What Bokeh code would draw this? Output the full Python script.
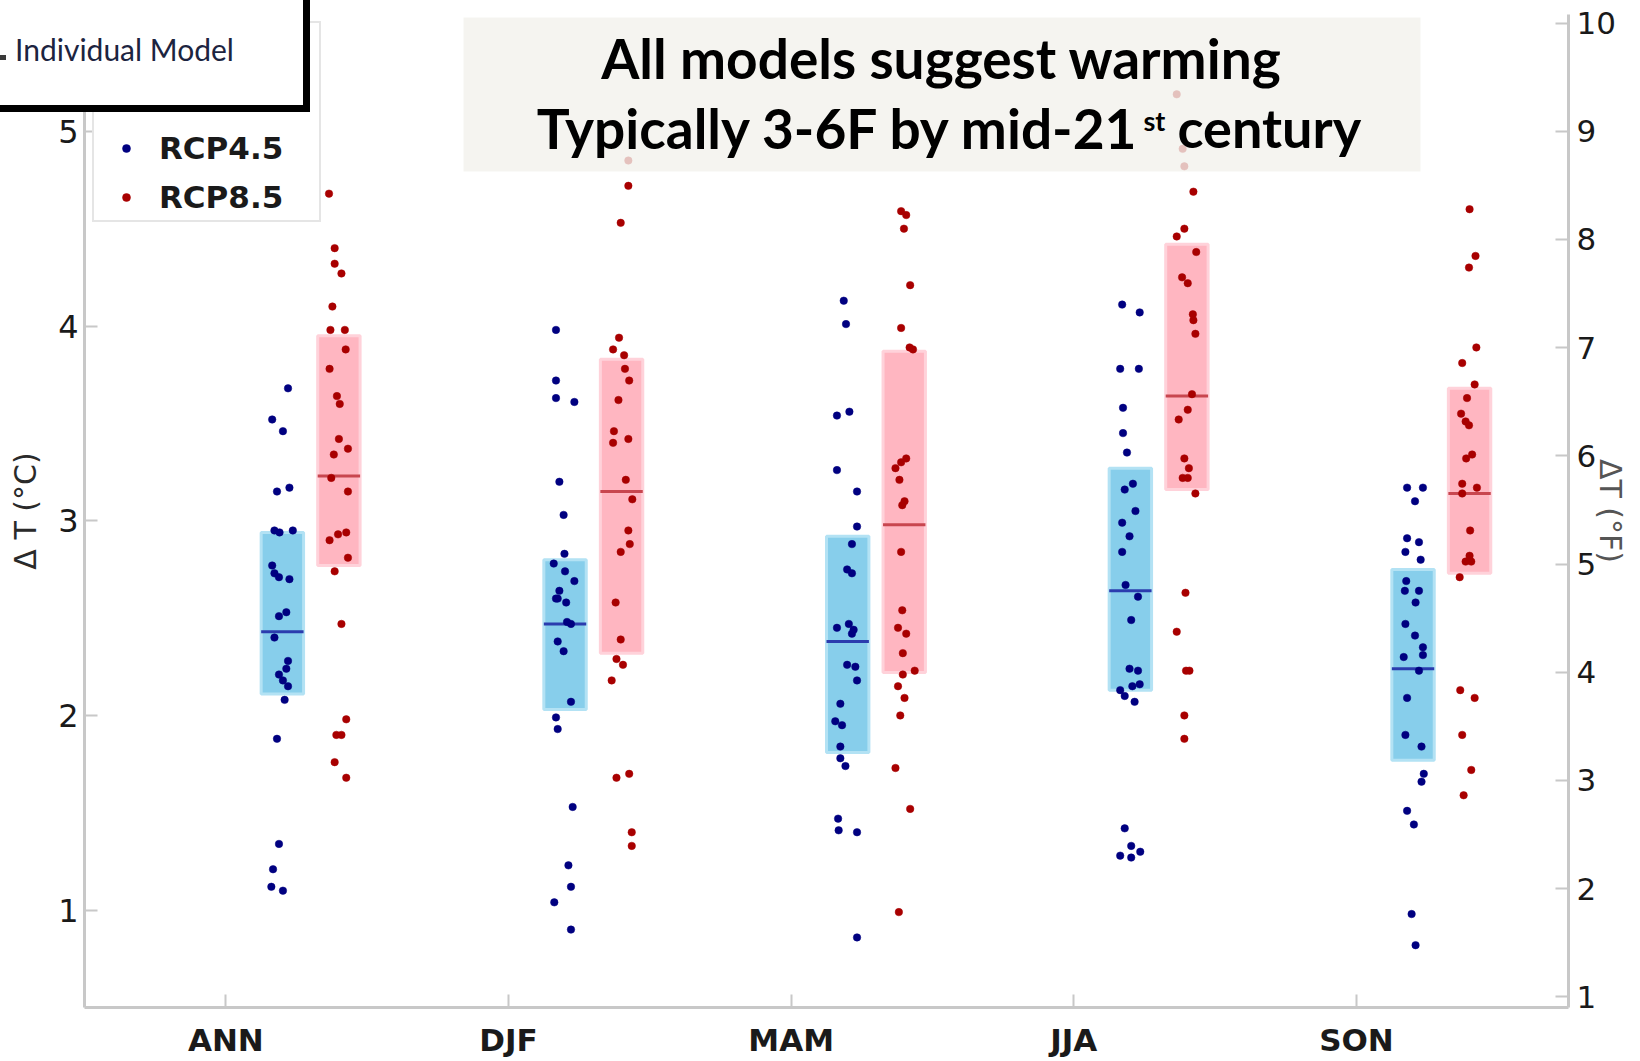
import numpy as np
from bokeh.plotting import figure
from bokeh.layouts import column
from bokeh.models import (Range1d, LinearAxis, FixedTicker, Label, BoxAnnotation,
                          Legend, LegendItem, ColumnDataSource, Div)
from bokeh.embed import file_html
from bokeh.resources import INLINE

# ---------------- data ----------------
seasons = ["ANN", "DJF", "MAM", "JJA", "SON"]

# box statistics (deg C)
rcp45_low = [2.11, 2.03, 1.81, 2.13, 1.77]
rcp45_median = [2.43, 2.47, 2.38, 2.64, 2.24]
rcp45_high = [2.94, 2.80, 2.92, 3.27, 2.75]
rcp85_low = [2.77, 2.32, 2.22, 3.16, 2.73]
rcp85_median = [3.23, 3.15, 2.98, 3.64, 3.14]
rcp85_high = [3.95, 3.83, 3.87, 4.42, 3.68]

# individual models (deg C) and their horizontal jitter (category units)
ann_rcp45 = [3.68, 3.52, 3.46, 3.17, 3.15, 2.95, 2.94, 2.95, 2.77, 2.73, 2.71, 2.70, 2.53,
             2.51, 2.40, 2.28, 2.24, 2.21, 2.18, 2.15, 2.08, 1.88, 1.34, 1.21, 1.12, 1.10]
ann_rcp45_dx = [0.020, -0.036, 0.002, 0.025, -0.019, -0.028, -0.010, 0.037, -0.036, -0.028,
                -0.012, 0.025, 0.014, -0.012, -0.028, 0.020, 0.014, -0.012, 0.002, 0.020,
                0.008, -0.019, -0.012, -0.033, -0.039, 0.002]
ann_rcp85 = [4.68, 4.40, 4.32, 4.27, 4.10, 3.98, 3.98, 3.88, 3.78, 3.64, 3.60, 3.42, 3.37,
             3.34, 3.22, 3.15, 2.94, 2.93, 2.90, 2.81, 2.74, 2.47, 1.98, 1.90, 1.90, 1.76, 1.68]
ann_rcp85_dx = [-0.035, -0.015, -0.015, 0.009, -0.023, -0.030, 0.021, 0.024, -0.033, -0.007,
                0.003, 0.000, 0.032, -0.018, -0.027, 0.032, 0.026, -0.003, -0.033, 0.032,
                -0.015, 0.009, 0.026, -0.009, 0.009, -0.015, 0.026]

djf_rcp45 = [3.98, 3.72, 3.63, 3.61, 3.20, 3.03, 2.83, 2.78, 2.74, 2.69, 2.64, 2.60, 2.58,
             2.60, 2.48, 2.47, 2.38, 2.33, 2.07, 1.99, 1.93, 1.53, 1.23, 1.12, 1.04, 0.90]
djf_rcp45_dx = [-0.032, -0.032, -0.032, 0.033, -0.020, -0.005, -0.002, -0.040, 0.000, 0.033,
                -0.020, -0.032, 0.004, -0.026, 0.007, 0.021, -0.026, -0.005, 0.021, -0.032,
                -0.026, 0.027, 0.012, 0.021, -0.038, 0.021]
djf_rcp85 = [4.85, 4.72, 4.53, 3.94, 3.88, 3.85, 3.78, 3.72, 3.62, 3.46, 3.40, 3.42, 3.21,
             3.11, 2.95, 2.88, 2.84, 2.58, 2.39, 2.29, 2.26, 2.18, 1.68, 1.70, 1.40, 1.33]
djf_rcp85_dx = [0.024, 0.024, -0.003, -0.009, -0.030, 0.009, 0.012, 0.027, -0.011, -0.027,
                -0.030, 0.024, 0.015, 0.038, 0.024, 0.029, -0.003, -0.021, -0.003, -0.018,
                0.005, -0.035, -0.018, 0.027, 0.036, 0.036]

mam_rcp45 = [4.13, 4.01, 3.54, 3.56, 3.26, 3.15, 2.97, 2.88, 2.75, 2.73, 2.45, 2.47, 2.44,
             2.42, 2.26, 2.25, 2.18, 2.06, 1.97, 1.95, 1.84, 1.78, 1.74, 1.47, 1.41, 1.40, 0.86]
mam_rcp45_dx = [-0.014, -0.006, -0.038, 0.006, -0.038, 0.033, 0.033, 0.015, -0.002, 0.015,
                -0.038, 0.004, 0.021, 0.015, -0.002, 0.027, 0.033, -0.026, -0.044, -0.020,
                -0.026, -0.026, -0.008, -0.034, -0.032, 0.033, 0.033]
mam_rcp85 = [4.59, 4.57, 4.50, 4.21, 3.99, 3.89, 3.88, 3.32, 3.30, 3.27, 3.21, 3.10, 3.08,
             2.84, 2.54, 2.45, 2.42, 2.32, 2.23, 2.21, 2.15, 2.09, 2.00, 1.73, 1.52, 0.99]
mam_rcp85_dx = [-0.011, 0.007, -0.001, 0.021, -0.011, 0.019, 0.031, 0.007, -0.011, -0.031,
                -0.017, 0.001, -0.007, -0.011, -0.007, -0.022, 0.007, -0.005, 0.037, -0.005,
                -0.022, 0.001, -0.014, -0.031, 0.021, -0.019]

jja_rcp45 = [4.11, 4.07, 3.78, 3.78, 3.58, 3.45, 3.35, 3.19, 3.16, 3.05, 2.99, 2.92, 2.84,
             2.67, 2.61, 2.49, 2.24, 2.23, 2.16, 2.15, 2.13, 2.10, 2.07, 1.42, 1.33, 1.30,
             1.28, 1.27]
jja_rcp45_dx = [-0.029, 0.033, -0.036, 0.030, -0.026, -0.026, -0.012, 0.009, -0.020, 0.018,
                -0.029, -0.003, -0.029, -0.017, 0.027, 0.003, -0.003, 0.027, 0.033, 0.007,
                -0.036, -0.020, 0.015, -0.020, 0.003, 0.035, -0.036, 0.003]
jja_rcp85 = [5.19, 4.91, 4.82, 4.69, 4.50, 4.46, 4.38, 4.25, 4.22, 4.06, 4.03, 3.96, 3.65,
             3.57, 3.52, 3.32, 3.27, 3.22, 3.22, 3.14, 2.63, 2.43, 2.23, 2.23, 2.00, 1.88]
jja_rcp85_dx = [-0.036, -0.015, -0.009, 0.023, -0.009, -0.036, 0.033, -0.017, 0.003, 0.021,
                0.023, 0.030, 0.018, 0.003, -0.029, -0.009, 0.007, -0.015, 0.003, 0.030,
                -0.005, -0.036, -0.003, 0.009, -0.009, -0.009]

son_rcp45 = [3.17, 3.17, 3.10, 2.91, 2.89, 2.84, 2.80, 2.69, 2.64, 2.64, 2.58, 2.47, 2.41,
             2.35, 2.31, 2.30, 2.23, 2.09, 1.90, 1.84, 1.70, 1.66, 1.51, 1.44, 0.98, 0.82]
son_rcp45_dx = [-0.021, 0.035, 0.007, -0.021, 0.021, -0.027, 0.027, -0.024, -0.029, 0.021,
                0.009, -0.027, 0.007, 0.035, 0.035, -0.033, 0.021, -0.021, -0.027, 0.030,
                0.038, 0.030, -0.021, 0.003, -0.005, 0.009]
son_rcp85 = [4.60, 4.36, 4.30, 3.89, 3.81, 3.70, 3.63, 3.55, 3.51, 3.49, 3.34, 3.32, 3.19,
             3.17, 3.14, 2.95, 2.82, 2.79, 2.79, 2.71, 2.13, 2.09, 1.90, 1.72, 1.59]
son_rcp85_dx = [0.000, 0.021, -0.002, 0.024, -0.026, 0.018, -0.009, -0.030, -0.014, -0.002,
                0.009, -0.012, -0.026, 0.026, -0.026, 0.002, 0.000, -0.014, 0.006, -0.035,
                -0.033, 0.018, -0.026, 0.006, -0.021]

fahrenheit_ticks = [1, 2, 3, 4, 5, 6, 7, 8, 9, 10]
celsius_ticks = [1, 2, 3, 4, 5]

# ---------------- layout geometry ----------------
W, H = 1640, 1061
FL, FR, FT, FB = 84, 1568, 14, 1007        # frame edges in canvas pixels
X0, X1 = 0.5, 5.75
Y0, Y1 = 0.5, 5.6
OFF45, OFF85, BOXW = 0.2, 0.4, 0.15


def px2x(px):
    return X0 + (px - FL) * (X1 - X0) / (FR - FL)


def px2y(py):
    return Y0 + (FB - py) * (Y1 - Y0) / (FB - FT)


p = figure(width=W, height=H, output_backend="svg", toolbar_location=None,
           x_range=Range1d(X0, X1), y_range=Range1d(Y0, Y1),
           x_axis_type=None, y_axis_type=None,
           min_border_left=FL, min_border_right=W - FR,
           min_border_top=FT, min_border_bottom=H - FB)
p.outline_line_color = None
p.background_fill_color = "white"
p.border_fill_color = "white"
p.extra_y_ranges = {"F": Range1d(Y0 * 1.8, Y1 * 1.8)}

AX = "#c8c8c8"


def style_axis(ax, size="31px", bold=False):
    ax.axis_line_color = AX
    ax.axis_line_width = 3
    ax.major_tick_line_color = AX
    ax.major_tick_line_width = 2
    ax.major_tick_in = 13
    ax.major_tick_out = 0
    ax.minor_tick_line_color = None
    ax.major_label_text_font = "DejaVu Sans"
    ax.major_label_text_font_size = size
    ax.major_label_text_color = "#1a1a1a"
    ax.major_label_text_font_style = "bold" if bold else "normal"
    ax.axis_label_text_font = "DejaVu Sans"
    ax.axis_label_text_font_style = "normal"


xaxis = LinearAxis(ticker=FixedTicker(ticks=[1, 2, 3, 4, 5]),
                   major_label_overrides={i + 1: s for i, s in enumerate(seasons)})
style_axis(xaxis, "31px", bold=True)
xaxis.major_label_standoff = 14
p.add_layout(xaxis, "below")

yaxis = LinearAxis(ticker=FixedTicker(ticks=celsius_ticks), axis_label="Δ T (°C)")
style_axis(yaxis, "32px")
yaxis.major_label_standoff = 6
yaxis.axis_label_standoff = 12
yaxis.axis_label_text_font_size = "30px"
yaxis.axis_label_text_color = "#2a2a2a"
p.add_layout(yaxis, "left")

raxis = LinearAxis(y_range_name="F", ticker=FixedTicker(ticks=fahrenheit_ticks),
                   axis_label="ΔT (°F)")
style_axis(raxis, "31px")
raxis.major_label_standoff = 8
raxis.axis_label_standoff = -26
raxis.axis_label_text_font_size = "30px"
raxis.axis_label_text_color = "#555555"
p.add_layout(raxis, "right")

cats = np.arange(1, 6)

# boxes
p.vbar(x=cats + OFF45, width=BOXW, bottom=rcp45_low, top=rcp45_high,
       fill_color="#87ceeb", line_color="#b3e2f4", line_width=3)
p.vbar(x=cats + OFF85, width=BOXW, bottom=rcp85_low, top=rcp85_high,
       fill_color="#ffb6c1", line_color="#ffd2da", line_width=3)
# medians
p.segment(x0=cats + OFF45 - BOXW / 2, x1=cats + OFF45 + BOXW / 2,
          y0=rcp45_median, y1=rcp45_median, line_color="#2b3cae", line_width=3)
p.segment(x0=cats + OFF85 - BOXW / 2, x1=cats + OFF85 + BOXW / 2,
          y0=rcp85_median, y1=rcp85_median, line_color="#c8464f", line_width=3)

# individual models
groups45 = [(ann_rcp45, ann_rcp45_dx), (djf_rcp45, djf_rcp45_dx), (mam_rcp45, mam_rcp45_dx),
            (jja_rcp45, jja_rcp45_dx), (son_rcp45, son_rcp45_dx)]
groups85 = [(ann_rcp85, ann_rcp85_dx), (djf_rcp85, djf_rcp85_dx), (mam_rcp85, mam_rcp85_dx),
            (jja_rcp85, jja_rcp85_dx), (son_rcp85, son_rcp85_dx)]


def build(groups, off):
    xs, ys = [], []
    for i, (vals, jit) in enumerate(groups):
        xs += [i + 1 + off + j for j in jit]
        ys += list(vals)
    return ColumnDataSource(dict(x=xs, y=ys))


r45 = p.scatter("x", "y", source=build(groups45, OFF45), marker="circle", size=7.5,
                fill_color="#000080", line_color="#000080", line_width=0.5)
r85 = p.scatter("x", "y", source=build(groups85, OFF85), marker="circle", size=7.5,
                fill_color="#a80000", line_color="#a80000", line_width=0.5)

# title box
p.add_layout(BoxAnnotation(left=px2x(463), right=px2x(1420), top=px2y(17), bottom=px2y(171),
                           fill_color="#f2f1ec", fill_alpha=0.8, line_alpha=0))
TF = "Lato"
p.add_layout(Label(x=px2x(941), y=px2y(57), text="All models suggest warming",
                   text_align="center", text_baseline="alphabetic", text_font=TF,
                   text_font_style="bold", text_font_size="55px", text_color="black"))
p.add_layout(Label(x=px2x(1140), y=px2y(127), text="Typically 3-6F by mid-21",
                   text_align="right", text_baseline="alphabetic", text_font=TF,
                   text_font_style="bold", text_font_size="55px", text_color="black"))
p.add_layout(Label(x=px2x(1143), y=px2y(120), text="st",
                   text_align="left", text_baseline="alphabetic", text_font=TF,
                   text_font_style="bold", text_font_size="27px", text_color="black"))
p.add_layout(Label(x=px2x(1177), y=px2y(127), text="century",
                   text_align="left", text_baseline="alphabetic", text_font=TF,
                   text_font_style="bold", text_font_size="54px", text_color="black"))

# legend
legend = Legend(items=[LegendItem(label="RCP4.5", renderers=[r45]),
                       LegendItem(label="RCP8.5", renderers=[r85])],
                location=(8, FB - 222), orientation="vertical",
                title=" ", title_text_font_size="72px", title_standoff=20,
                border_line_color="#cccccc", border_line_width=2,
                background_fill_color="white", background_fill_alpha=1,
                padding=0, margin=0, spacing=3,
                label_height=46, glyph_height=20, glyph_width=64, label_standoff=1,
                label_width=160,
                label_text_font="DejaVu Sans", label_text_font_style="bold",
                label_text_font_size="31px", label_text_color="#1a1a1a")
p.add_layout(legend)

# "Individual Model" box overlapping the upper-left corner
ind_box = Div(
    text=('<span style="position:absolute;left:-4px;top:55px;width:10px;height:5px;'
          'background:#3a3a3a"></span>'
          '<span style="position:absolute;left:15px;top:34px;font-family:Lato;'
          'font-size:30px;line-height:1;color:#1c2440;white-space:nowrap">'
          'Individual Model</span>'),
    width=310, height=112,
    styles={"position": "absolute", "left": "0px", "top": "0px", "z-index": "10",
            "background-color": "white", "border-right": "7px solid black",
            "border-bottom": "7px solid black", "box-sizing": "border-box",
            "overflow": "hidden", "margin": "0px", "padding": "0px"})

page = column(p, ind_box, spacing=0)
open("out.html", "w").write(file_html(page, INLINE))
